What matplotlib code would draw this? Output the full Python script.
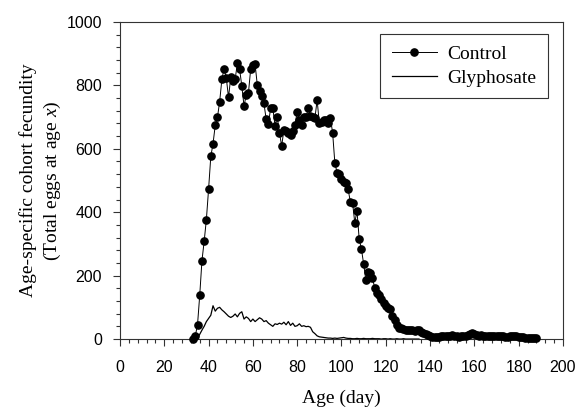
import numpy as np
import matplotlib
matplotlib.use('Agg')
from matplotlib import pyplot as plt
from matplotlib.ticker import MultipleLocator

# control cohort: eggs per day, age 33..188
control_age = list(range(33, 189))
control_eggs = [0, 10, 45, 138, 247, 308, 377, 473, 576, 616,
                674, 699, 749, 819, 853, 823, 762, 825, 814, 820,
                870, 851, 798, 735, 770, 777, 851, 864, 866, 801,
                782, 765, 743, 693, 677, 728, 728, 673, 701, 650,
                609, 660, 655, 650, 645, 655, 675, 717, 690, 675,
                701, 700, 728, 705, 700, 696, 754, 680, 685, 690,
                691, 680, 696, 651, 556, 525, 520, 505, 495, 493,
                472, 433, 430, 367, 404, 315, 284, 237, 186, 212,
                209, 191, 162, 145, 139, 125, 113, 105, 99, 95,
                73, 60, 44, 34, 35, 32, 30, 29, 28, 27,
                25, 28, 27, 22, 18, 15, 12, 8, 5, 5,
                7, 6, 8, 10, 9, 8, 10, 12, 10, 8,
                7, 8, 9, 10, 12, 15, 20, 15, 13, 10,
                12, 10, 11, 9, 10, 11, 9, 10, 8, 9,
                10, 7, 6, 8, 10, 9, 8, 7, 6, 5,
                4, 4, 3, 3, 2, 2]

# glyphosate cohort: eggs per day, age 34..135
glyph_age = list(range(34, 136))
glyph_eggs = [0, 2, 15, 28, 40, 55, 65, 75, 105, 88,
              97, 100, 92, 86, 79, 72, 68, 72, 79, 70,
              81, 86, 63, 70, 65, 55, 63, 55, 61, 67,
              63, 55, 58, 50, 45, 40, 48, 46, 50, 47,
              53, 45, 55, 43, 50, 40, 42, 48, 40, 42,
              39, 40, 37, 23, 17, 10, 7, 6, 5, 4,
              3, 3, 2, 3, 2, 3, 4, 5, 3, 2,
              2, 1, 1, 2, 1, 1, 2, 1, 1, 1,
              2, 1, 1, 1, 0, 1, 1, 0, 1, 0,
              0, 1, 0, 0, 1, 0, 0, 0, 0, 0,
              0, 0]

plt.rcParams['mathtext.fontset'] = 'custom'
plt.rcParams['mathtext.rm'] = 'Liberation Serif'
plt.rcParams['mathtext.it'] = 'Liberation Serif:italic'

serif = 'Liberation Serif'
sans = 'Liberation Sans'

fig = plt.figure(figsize=(5.78, 4.07), dpi=100)
ax = fig.add_axes([0.2076, 0.167, 0.974 - 0.2076, 0.946 - 0.167])

ax.plot(control_age, control_eggs, color='black', lw=0.7, marker='o',
        markersize=5.2, markerfacecolor='black', markeredgecolor='black',
        label='Control', clip_on=False, zorder=3)
ax.plot(glyph_age, glyph_eggs, color='black', lw=0.9, label='Glyphosate',
        zorder=2)

ax.set_xlim(0, 200)
ax.set_ylim(0, 1000)
ax.xaxis.set_major_locator(MultipleLocator(20))
ax.xaxis.set_minor_locator(MultipleLocator(4))
ax.yaxis.set_major_locator(MultipleLocator(200))
ax.yaxis.set_minor_locator(MultipleLocator(40))
ax.tick_params(which='both', direction='out', top=False, right=False,
               color='#333333', width=0.8)
ax.tick_params(which='major', length=5, labelsize=11.5)
ax.tick_params(axis='x', which='major', pad=10)
ax.tick_params(axis='y', which='major', pad=8)
ax.tick_params(which='minor', length=3)
for lab in ax.get_xticklabels() + ax.get_yticklabels():
    lab.set_fontfamily(sans)
for sp in ax.spines.values():
    sp.set_color('#333333')
    sp.set_linewidth(0.8)

ax.set_xlabel('Age (day)', fontfamily=serif, fontsize=14, labelpad=11)
ax.set_ylabel('Age-specific cohort fecundity\n(Total eggs at age $x$)',
              fontfamily=serif, fontsize=14, labelpad=2.5,
              linespacing=1.3)

leg = ax.legend(loc='upper right', bbox_to_anchor=(0.966, 0.962),
                prop={'family': serif, 'size': 14}, frameon=True,
                fancybox=False, edgecolor='#333333', framealpha=1,
                handlelength=2.3, handletextpad=0.55, borderpad=0.6,
                labelspacing=0.3, borderaxespad=0)
leg.get_frame().set_linewidth(0.8)

fig.savefig('out.png', dpi=100)
